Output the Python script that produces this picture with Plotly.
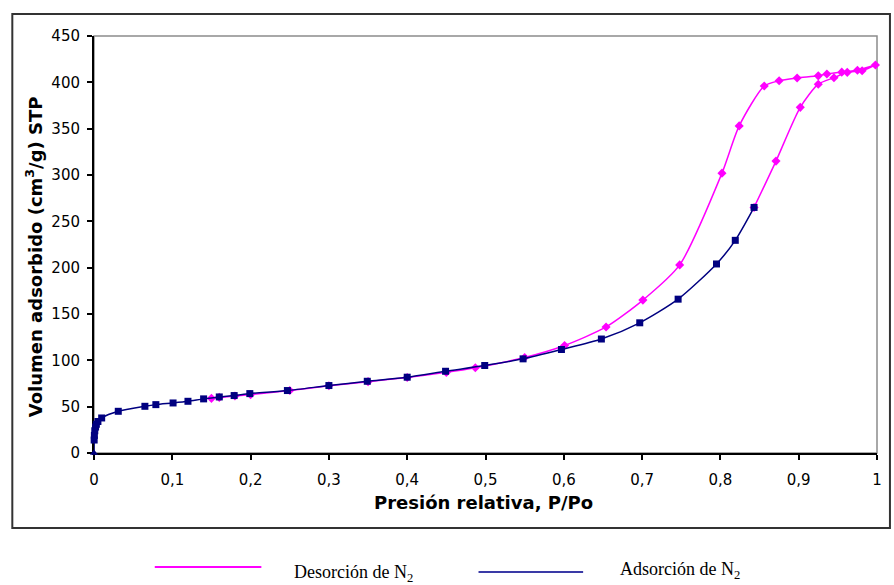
import plotly.graph_objects as go

# ---------------- data ----------------
ads_p = [0, 0.0002, 0.0005, 0.001, 0.002, 0.003, 0.005, 0.0098, 0.031, 0.065, 0.079,
         0.101, 0.12, 0.14, 0.16, 0.179, 0.199, 0.247, 0.30, 0.349, 0.40, 0.449,
         0.499, 0.548, 0.597, 0.648, 0.697, 0.746, 0.795, 0.819, 0.843]
ads_v = [0, 14, 19, 24, 28, 31, 34, 37.8, 45, 50.4, 52.2,
         54, 55.8, 58.4, 60.5, 62, 64.1, 67.4, 72.8, 77.4, 81.8, 88.2,
         94.4, 101.6, 111.7, 123, 140.5, 166, 204, 229.5, 265]

des_p = [0.843, 0.871, 0.902, 0.925, 0.945, 0.962, 0.981, 0.998,
         0.975, 0.955, 0.936, 0.925, 0.898, 0.875, 0.856, 0.824, 0.802,
         0.748, 0.701, 0.654, 0.601, 0.55, 0.487, 0.45, 0.40, 0.35, 0.30,
         0.25, 0.20, 0.18, 0.16, 0.15]
des_v = [265, 315, 373, 398, 405, 410.8, 412.5, 418.7,
         413, 411, 409, 407, 404.6, 401.7, 396, 353, 302,
         203, 165, 136, 116, 103, 92, 87, 81.5, 77, 72.5,
         67.5, 63, 61.5, 60, 59]

x_ticks = [0, 0.1, 0.2, 0.3, 0.4, 0.5, 0.6, 0.7, 0.8, 0.9, 1]
x_tick_text = ["0", "0,1", "0,2", "0,3", "0,4", "0,5", "0,6", "0,7", "0,8", "0,9", "1"]
y_ticks = [0, 50, 100, 150, 200, 250, 300, 350, 400, 450]

legend_names = ["Desorción de N<sub>2</sub>", "Adsorción de N<sub>2</sub>"]
magenta = "#FF00FF"
navy = "#000080"
legend_blue = "#3a3aa6"

# ---------------- layout geometry (pixels) ----------------
W, H = 894, 585
L, T, PW, PH = 94, 36, 786, 417
B = H - T - PH
R = W - L - PW


def px(x):
    return (x - L) / PW


def py(y):
    return (T + PH - y) / PH


fig = go.Figure()

fig.add_trace(go.Scatter(
    x=des_p, y=des_v, mode="lines+markers", name=legend_names[0],
    line=dict(color=magenta, width=1.5, shape="spline", smoothing=0.7),
    marker=dict(symbol="diamond", size=7, color=magenta),
    cliponaxis=False, showlegend=False))

ads_symbols = ["triangle-up"] + ["square"] * (len(ads_p) - 1)
fig.add_trace(go.Scatter(
    x=ads_p, y=ads_v, mode="lines+markers", name=legend_names[1],
    line=dict(color=navy, width=1.5, shape="spline", smoothing=0.7),
    marker=dict(symbol=ads_symbols, size=7, color=navy),
    cliponaxis=False, showlegend=False))

tick_font = dict(family="DejaVu Sans", size=15, color="black")

fig.update_xaxes(range=[0, 1], tickvals=x_ticks, ticktext=x_tick_text,
                 showgrid=False, zeroline=False, showline=True, linecolor="black",
                 linewidth=2, ticks="outside", ticklen=5, tickwidth=1.5,
                 tickcolor="black", tickfont=tick_font, ticklabelstandoff=7,
                 layer="below traces")
fig.update_yaxes(range=[0, 450], tickvals=y_ticks,
                 showgrid=False, zeroline=False, showline=True, linecolor="black",
                 linewidth=2, ticks="outside", ticklen=5, tickwidth=1.5,
                 tickcolor="black", tickfont=tick_font, ticklabelstandoff=4,
                 layer="below traces")

shapes = [
    # plot area border (gray top/right)
    dict(type="rect", xref="paper", yref="paper", x0=0, y0=0, x1=1, y1=1,
         line=dict(color="#8c8c8c", width=1.5), layer="below"),
    # outer chart frame
    dict(type="rect", xref="paper", yref="paper",
         x0=px(12), x1=px(893), y0=py(528), y1=py(14),
         line=dict(color="#333333", width=2), layer="below"),
    # legend lines
    dict(type="line", xref="paper", yref="paper",
         x0=px(155), x1=px(262), y0=py(567), y1=py(567),
         line=dict(color=magenta, width=2)),
    dict(type="line", xref="paper", yref="paper",
         x0=px(480), x1=px(585), y0=py(572), y1=py(572),
         line=dict(color=legend_blue, width=2)),
]

title_font = dict(family="DejaVu Sans", size=18, color="black")
annotations = [
    dict(text="<b>Presión relativa, P/Po</b>", xref="paper", yref="paper",
         x=px(485), y=py(503), xanchor="center", yanchor="middle",
         showarrow=False, font=title_font),
    dict(text="<b>Volumen adsorbido (cm<sup>3</sup>/g) STP</b>", xref="paper", yref="paper",
         x=px(34), y=py(257), xanchor="center", yanchor="middle",
         textangle=-90, showarrow=False, font=title_font),
    dict(text=legend_names[0], xref="paper", yref="paper",
         x=px(293), y=py(573), xanchor="left", yanchor="middle",
         showarrow=False, font=dict(family="Liberation Serif", size=18, color="black")),
    dict(text=legend_names[1], xref="paper", yref="paper",
         x=px(620), y=py(570), xanchor="left", yanchor="middle",
         showarrow=False, font=dict(family="Liberation Serif", size=18, color="black")),
]

fig.update_layout(
    width=W, height=H,
    margin=dict(l=L, r=R, t=T, b=B, pad=0),
    paper_bgcolor="white", plot_bgcolor="white",
    shapes=shapes, annotations=annotations,
    showlegend=False,
)

fig.write_html(
    "out.html",
    config={"displayModeBar": False},
    post_script="document.body.style.margin='0';document.body.style.overflow='hidden';",
)
